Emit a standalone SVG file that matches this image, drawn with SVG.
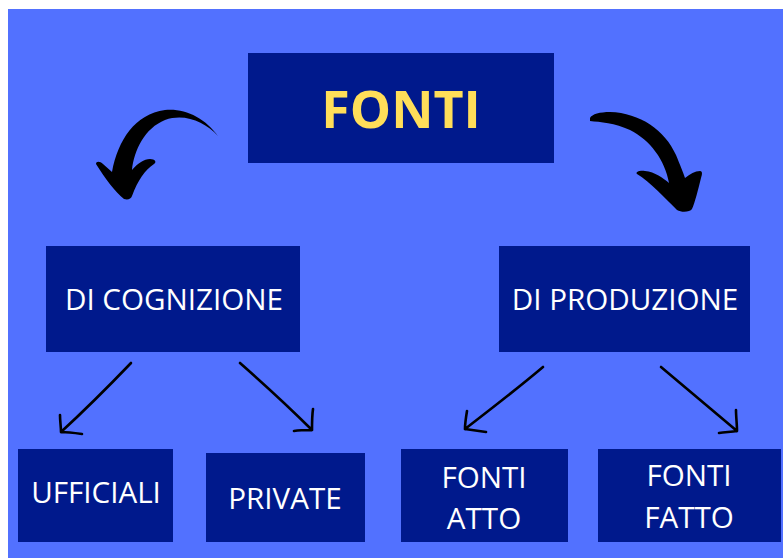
<svg xmlns="http://www.w3.org/2000/svg" width="783" height="558" viewBox="0 0 783 558">
<style>
.box{fill:#00198c}
.lbl{font-family:"Open Sans","Liberation Sans",sans-serif;font-size:29.6px;fill:#ffffff;text-anchor:middle}
.title{font-family:"Open Sans","Liberation Sans",sans-serif;font-size:52px;font-weight:bold;fill:#ffde59;text-anchor:middle}
.thin{fill:none;stroke:#000;stroke-width:2.6;stroke-linecap:round;stroke-linejoin:round}
.big{fill:#000}
</style>
<rect x="0" y="0" width="783" height="558" fill="#ffffff"/>
<rect x="8" y="9" width="775" height="549" fill="#5271ff"/>
<g id="connectors">
<path class="big" d="M 218,136 C 205,118 185,108 165,110 C 135,114 118,140 112,172 L 103,164 C 100,161 96,161 96,164 C 105,178 115,192 124,199 C 128,200 131,199 132,196 C 138,180 145,170 154,164 C 157,162 155,159 150,159 C 144,159 138,163 132,170 C 134,150 145,128 165,120 C 185,113 205,122 218,136 Z"/>
<path class="big" d="M 590,118 C 592,114 600,112 610,112 C 640,113 665,130 676,155 C 680,165 683,172 685,178 C 690,174 695,171 700,171 C 703,171 702,175 701,178 C 698,190 695,202 692,209 C 690,212 682,213 677,210 C 665,198 650,182 637,174 C 635,172 640,170 645,171 C 655,172 663,178 669,183 C 665,160 650,140 630,130 C 615,123 600,122 590,121 Z"/>
<path class="thin" d="M 131,363 C 108,387 85,410 61,432 M 60,415 C 60,421 61,427 61,432 C 68,432 75,433 82,434"/>
<path class="thin" d="M 240,363 C 265,385 290,408 312,430 M 313,409 C 312,416 312,423 312,430 C 306,430 300,430 294,431"/>
<path class="thin" d="M 543,367 C 517,389 491,409 465,429 M 467,411 C 466,417 465,423 465,429 C 472,430 479,431 486,432"/>
<path class="thin" d="M 661,367 C 687,389 712,410 737,431 M 736,410 C 736,417 737,424 737,431 C 731,432 725,432 719,433"/>
</g>
<g id="fonti">
<rect class="box" x="248" y="53" width="306" height="110"/>
<text class="title" x="401" y="128">FONTI</text>
</g>
<g id="cognizione">
<rect class="box" x="46" y="246" width="254" height="106"/>
<text class="lbl" x="174" y="310">DI COGNIZIONE</text>
</g>
<g id="produzione">
<rect class="box" x="499" y="246" width="251" height="106"/>
<text class="lbl" x="625" y="310">DI PRODUZIONE</text>
</g>
<g id="ufficiali">
<rect class="box" x="18" y="449" width="155" height="93"/>
<text class="lbl" x="96" y="503">UFFICIALI</text>
</g>
<g id="private">
<rect class="box" x="206" y="453" width="159" height="89"/>
<text class="lbl" x="285" y="509">PRIVATE</text>
</g>
<g id="fonti-atto">
<rect class="box" x="401" y="449" width="167" height="93"/>
<text class="lbl" x="484" y="488">FONTI</text>
<text class="lbl" x="484" y="529">ATTO</text>
</g>
<g id="fonti-fatto">
<rect class="box" x="598" y="449" width="183" height="93"/>
<text class="lbl" x="689" y="486">FONTI</text>
<text class="lbl" x="689" y="528">FATTO</text>
</g>
</svg>
